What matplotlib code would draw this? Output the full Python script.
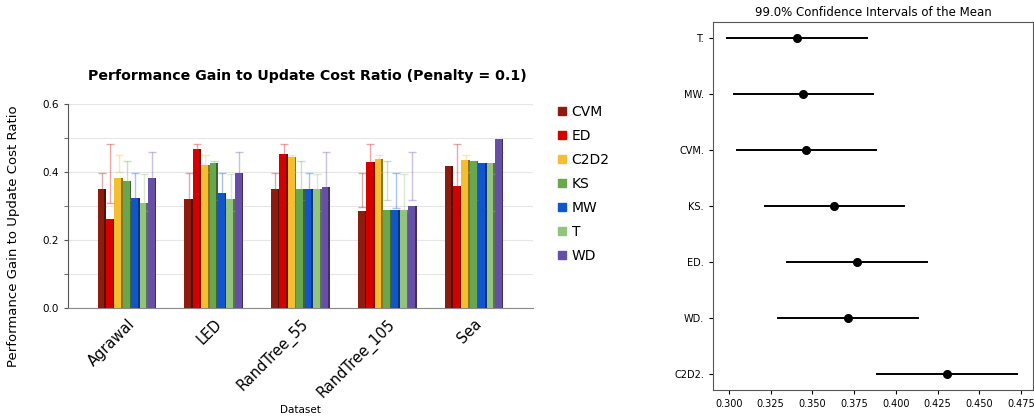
import numpy as np
import matplotlib
matplotlib.use("Agg")
import matplotlib.pyplot as plt
from matplotlib.lines import Line2D
from matplotlib.colors import to_rgb

plt.rcParams["font.family"] = ["DejaVu Sans"]

# ---- 左图数据 ----
datasets = ["Agrawal", "LED", "RandTree_55", "RandTree_105", "Sea"]
methods = ["CVM", "ED", "C2D2", "KS", "MW", "T", "WD"]
colors = ["#8b1c0f", "#d40000", "#f3bf30", "#69a74e", "#1155cc", "#93c47d", "#674ea7"]
ratio = {
    "CVM":  [0.349, 0.322, 0.349, 0.286, 0.418],
    "ED":   [0.261, 0.469, 0.452, 0.428, 0.359],
    "C2D2": [0.383, 0.420, 0.444, 0.438, 0.434],
    "KS":   [0.374, 0.426, 0.349, 0.288, 0.432],
    "MW":   [0.323, 0.338, 0.349, 0.288, 0.426],
    "T":    [0.310, 0.320, 0.349, 0.288, 0.426],
    "WD":   [0.383, 0.396, 0.356, 0.300, 0.497],
}
err_low = [0.298, 0.310, 0.401, 0.317, 0.295, 0.285, 0.317]
err_high = [0.396, 0.481, 0.451, 0.433, 0.398, 0.395, 0.460]

# ---- 右图数据 ----
ci_labels = ["T.", "MW.", "CVM.", "KS.", "ED.", "WD.", "C2D2."]
ci_mean = [0.3408, 0.3446, 0.3462, 0.3631, 0.3767, 0.3713, 0.4309]
ci_low = [0.2988, 0.3030, 0.3046, 0.3216, 0.3348, 0.3296, 0.3889]
ci_high = [0.3825, 0.3863, 0.3879, 0.4049, 0.4185, 0.4131, 0.4729]


def darker(c, f=0.6):
    r, g, b = to_rgb(c)
    return (r * f, g * f, b * f)


fig = plt.figure(figsize=(10.34, 4.18), dpi=100)
W, H = 1034, 418
ax = fig.add_axes([68 / W, 1 - 308 / H, (533 - 68) / W, (308 - 104) / H])
ax2 = fig.add_axes([713 / W, 1 - 390 / H, (1033 - 713) / W, (390 - 22) / H])

# ---- 左：柱状图 ----
x = np.arange(len(datasets))
bw = 0.097
for i, (m, c) in enumerate(zip(methods, colors)):
    xi = x + (i - 3) * bw
    ax.bar(xi - bw * 0.1, ratio[m], width=bw * 0.8, color=c, zorder=3)
    ax.bar(xi + bw * 0.4, ratio[m], width=bw * 0.2, color=darker(c), zorder=3)
    mid = (err_low[i] + err_high[i]) / 2
    half = (err_high[i] - err_low[i]) / 2
    ax.errorbar(xi, [mid] * len(x), yerr=half, fmt="none", ecolor=c, alpha=0.35,
                elinewidth=1.0, capsize=3, capthick=1.0, zorder=4)

ax.set_xlim(-0.68, 4.68)
ax.set_ylim(0, 0.6)
ax.set_yticks([0.0, 0.2, 0.4, 0.6])
ax.set_yticks([0.1, 0.3, 0.5], minor=True)
ax.set_yticklabels(["0.0", "0.2", "0.4", "0.6"], fontsize=7.5)
ax.grid(axis="y", which="both", color="#e6e6e6", lw=0.8, zorder=0)
ax.set_xticks(x)
ax.set_xticklabels(datasets, rotation=45, ha="right", rotation_mode="anchor", fontsize=10.5)
ax.tick_params(axis="x", length=0, pad=6)
ax.tick_params(axis="y", which="both", direction="out", length=3, color="#555555")
for s in ["top", "right"]:
    ax.spines[s].set_visible(False)
ax.spines["left"].set_color("#555555")
ax.spines["bottom"].set_color("#888888")
fig.text(307 / W, 1 - 76 / H, "Performance Gain to Update Cost Ratio (Penalty = 0.1)",
         fontsize=10.2, fontweight="bold", ha="center", va="center")
fig.text(14 / W, 1 - 236 / H, "Performance Gain to Update Cost Ratio",
         fontsize=9.5, rotation=90, ha="center", va="center")
fig.text(300 / W, 1 - 410 / H, "Dataset", fontsize=7.5, ha="center", va="center")

handles = [Line2D([], [], ls="none", marker="s", markersize=5.5, color=c) for c in colors]
fig.legend(handles, methods, loc="upper left", bbox_to_anchor=(548 / W, 1 - 98 / H),
           frameon=False, fontsize=10, handletextpad=0.2, labelspacing=0.72,
           handlelength=1.0, borderpad=0)

# ---- 右：置信区间 ----
yy = np.arange(len(ci_labels))
for j in range(len(ci_labels)):
    ax2.plot([ci_low[j], ci_high[j]], [yy[j], yy[j]], color="black", lw=1.4)
ax2.plot(ci_mean, yy, "o", color="black", markersize=5.5)
ax2.set_yticks(yy)
ax2.set_yticklabels(ci_labels, fontsize=7)
ax2.set_ylim(6.29, -0.29)
ax2.set_xlim(0.2904, 0.4822)
ax2.set_xticks([0.300, 0.325, 0.350, 0.375, 0.400, 0.425, 0.450, 0.475])
ax2.set_xticklabels([f"{v:.3f}" for v in ax2.get_xticks()], fontsize=7)
ax2.tick_params(length=3, width=0.8)
for s in ax2.spines.values():
    s.set_color("#555555")
ax2.set_title("99.0% Confidence Intervals of the Mean", fontsize=8.5, pad=4)

fig.savefig("out.png", dpi=100)
